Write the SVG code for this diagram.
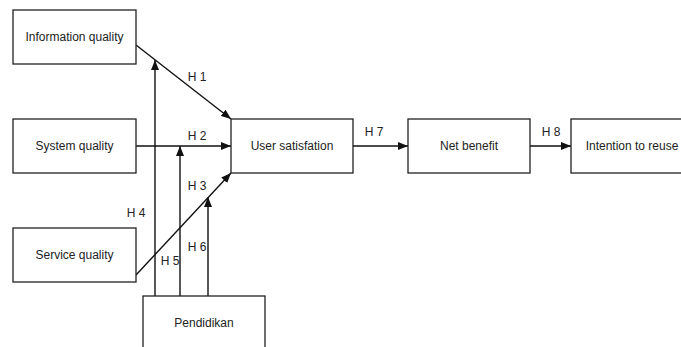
<svg xmlns="http://www.w3.org/2000/svg" width="681" height="347" viewBox="0 0 681 347">
<style>
.box{fill:#fff;stroke:#222;stroke-width:1.3}
.lbl{font-family:"Liberation Sans",Arial,sans-serif;font-size:12px;fill:#222;text-anchor:middle}
.con{fill:none;stroke:#111;stroke-width:1.4}
</style>
<defs>
<marker id="ah" viewBox="0 0 10 8" refX="10" refY="4" markerWidth="10" markerHeight="8" markerUnits="userSpaceOnUse" orient="auto">
<path d="M0,0 L10,4 L0,8 Z" fill="#111"/>
</marker>
</defs>
<rect width="681" height="347" fill="#fff"/>
<g id="connectors">
<line class="con" x1="136" y1="45" x2="231" y2="119" marker-end="url(#ah)"/>
<line class="con" x1="136" y1="146" x2="231" y2="146" marker-end="url(#ah)"/>
<line class="con" x1="136" y1="275" x2="231" y2="173" marker-end="url(#ah)"/>
<line class="con" x1="155" y1="296" x2="155" y2="60" marker-end="url(#ah)"/>
<line class="con" x1="180" y1="296" x2="180" y2="146" marker-end="url(#ah)"/>
<line class="con" x1="208" y1="296" x2="208" y2="197" marker-end="url(#ah)"/>
<line class="con" x1="353" y1="146" x2="408" y2="146" marker-end="url(#ah)"/>
<line class="con" x1="530" y1="146" x2="571" y2="146" marker-end="url(#ah)"/>
<text class="lbl" x="197" y="81">H 1</text>
<text class="lbl" x="197" y="140">H 2</text>
<text class="lbl" x="197" y="190">H 3</text>
<text class="lbl" x="136" y="217">H 4</text>
<text class="lbl" x="170" y="265">H 5</text>
<text class="lbl" x="197" y="251">H 6</text>
<text class="lbl" x="374" y="136">H 7</text>
<text class="lbl" x="551" y="136">H 8</text>
</g>
<g id="info">
<rect class="box" x="13" y="10" width="123" height="54"/>
<text class="lbl" x="74.5" y="41">Information quality</text>
</g>
<g id="system">
<rect class="box" x="13" y="119" width="123" height="54"/>
<text class="lbl" x="74.5" y="150">System quality</text>
</g>
<g id="service">
<rect class="box" x="13" y="228" width="123" height="54"/>
<text class="lbl" x="74.5" y="259">Service quality</text>
</g>
<g id="user">
<rect class="box" x="231" y="119" width="122" height="54"/>
<text class="lbl" x="292" y="150">User satisfation</text>
</g>
<g id="net">
<rect class="box" x="408" y="119" width="122" height="54"/>
<text class="lbl" x="469" y="150">Net benefit</text>
</g>
<g id="intention">
<rect class="box" x="571" y="119" width="122" height="54"/>
<text class="lbl" x="632" y="150">Intention to reuse</text>
</g>
<g id="pendidikan">
<rect class="box" x="143" y="296" width="122" height="54"/>
<text class="lbl" x="204" y="327">Pendidikan</text>
</g>
</svg>
